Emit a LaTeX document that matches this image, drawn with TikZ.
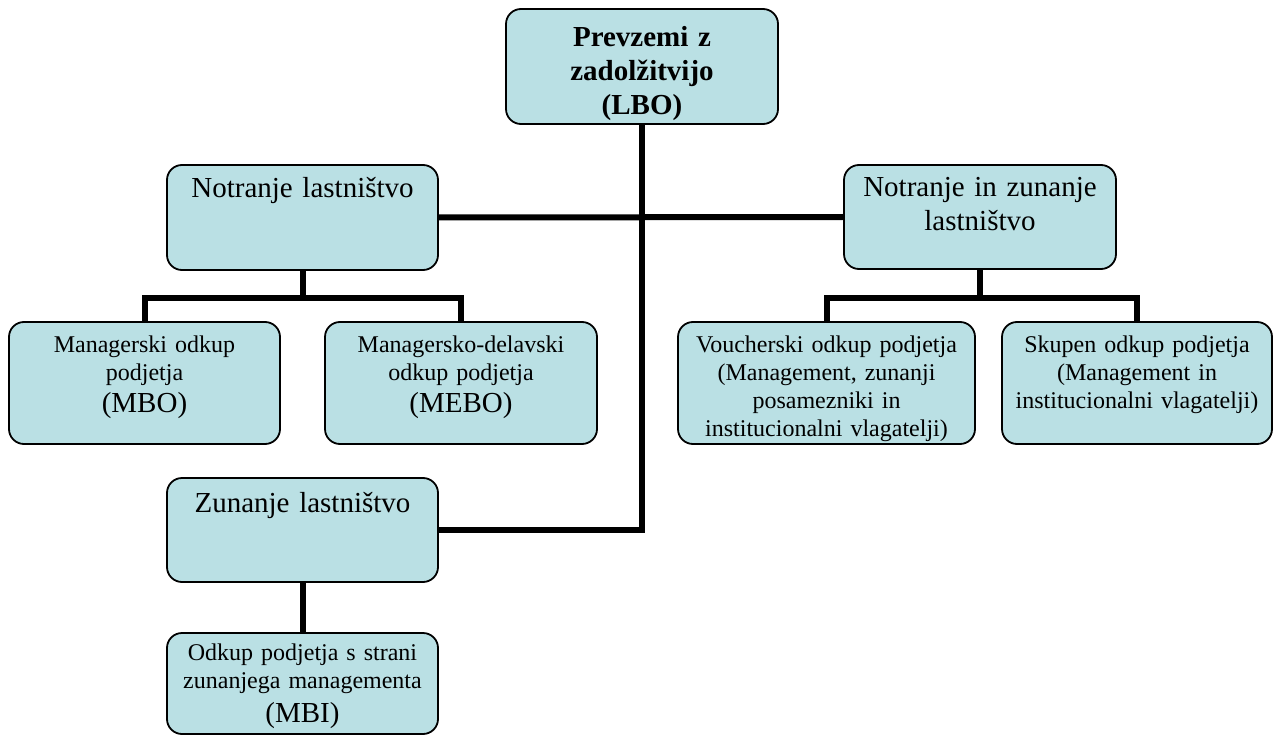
\documentclass[tikz,border=0pt]{standalone}
\usepackage{fontspec}
\setmainfont{Liberation Serif}
\usepackage{tikz}
\definecolor{boxfill}{RGB}{186,224,228}

\begin{document}
\begin{tikzpicture}[x=1pt, y=-1pt,
  box/.style={draw, fill=boxfill, line width=1.8pt, rounded corners=15pt,
    inner sep=0pt, align=center, text height=20pt},
  big/.style={font=\fontsize{29}{34}\selectfont},
  small/.style={font=\fontsize{24}{28}\selectfont},
  conn/.style={line width=6pt}]
  \useasboundingbox (0,0) rectangle (1273,735);
  % Vrh
  \node[box, font=\fontsize{29}{34}\selectfont\bfseries, text width=272pt,
    minimum height=115pt, text height=21pt, text depth=60pt] (lbo) at (642,66.5)
    {Prevzemi z\\ zadolžitvijo\\ (LBO)};
  % Vrste lastništva
  \node[box, big, text width=271pt, minimum height=105pt, text depth=59pt]
    (notr) at (302.5,217.5) {Notranje lastništvo};
  \node[box, big, text width=272pt, minimum height=104pt, text depth=60pt]
    (nz) at (980,217) {Notranje in zunanje\\ lastništvo};
  \node[box, big, text width=271pt, minimum height=104pt, text depth=56pt]
    (zun) at (302.5,530) {Zunanje lastništvo};
  % Odkupi
  \node[box, small, text width=271pt, minimum height=122pt, text depth=82pt]
    (mbo) at (144.5,383)
    {Managerski odkup\\ podjetja\\[4pt] {\fontsize{29}{28}\selectfont (MBO)}};
  \node[box, small, text width=272pt, minimum height=122pt, text depth=82pt]
    (mebo) at (461,383)
    {Managersko-delavski\\ odkup podjetja\\[4pt] {\fontsize{29}{28}\selectfont (MEBO)}};
  \node[box, small, text width=297pt, minimum height=122pt, text depth=82pt]
    (vouch) at (826.5,383)
    {Voucherski odkup podjetja\\ (Management, zunanji\\ posamezniki in\\ institucionalni vlagatelji)};
  \node[box, small, text width=270pt, minimum height=122pt, text depth=82pt]
    (skup) at (1137,383)
    {Skupen odkup podjetja\\ (Management in\\ institucionalni vlagatelji)};
  \node[box, small, text width=271pt, minimum height=101pt, text depth=67pt]
    (mbi) at (302.5,683.5)
    {Odkup podjetja s strani\\ zunanjega managementa\\[6pt] {\fontsize{29}{28}\selectfont (MBI)}};
  % Povezave
  \coordinate (lbar) at (302.5,298);
  \coordinate (rbar) at (980,298);
  \draw[conn] (lbo.south) |- (zun.east);
  \draw[conn] (notr.east) -- (nz.west);
  \draw[conn] (notr.south) -- (lbar);
  \draw[conn] (mbo.north) |- (lbar) -| (mebo.north);
  \draw[conn] (nz.south) -- (rbar);
  \draw[conn] (vouch.north) |- (rbar) -| (skup.north);
  \draw[conn] (zun.south) -- (mbi.north);
\end{tikzpicture}
\end{document}
